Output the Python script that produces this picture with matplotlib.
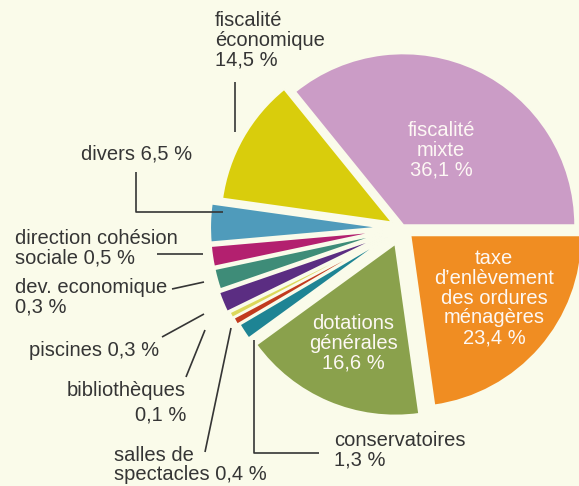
import matplotlib
matplotlib.use("Agg")
import matplotlib.pyplot as plt

# slices, in drawing order (counter-clockwise from 3 o'clock)
names = ["fiscalité\nmixte", "fiscalité\néconomique", "divers",
         "direction cohésion\nsociale", "dev. economique", "piscines",
         "bibliothèques", "salles de\nspectacles", "conservatoires",
         "dotations\ngénérales", "taxe\nd’enlèvement\ndes ordures\nménagères"]
pct = [36.1, 14.5, 6.5, 0.5, 0.3, 0.3, 0.1, 0.4, 1.3, 16.6, 23.4]
# angle each slice takes in the picture (small items are enlarged there)
drawn_deg = [129, 43, 13, 7, 7, 7, 2, 2.5, 5.5, 62, 82]
colors = ["#cb9cc6", "#d9cd0c", "#4f9bbb", "#b3206f", "#3e8c78", "#5b2d82",
          "#dcd85a", "#c23a1e", "#1e8494", "#8aa14c", "#f08d22"]
explode = [3, 11, 20, 20, 20, 22, 20, 19, 17, 17, 11]

BG = "#fafbea"
INK = "#353535"
plt.rcParams["font.family"] = ["Liberation Sans Narrow", "Liberation Sans", "DejaVu Sans"]

fig = plt.figure(figsize=(5.79, 4.86), dpi=100, facecolor=BG)
ax = fig.add_axes([0, 0, 1, 1])
ax.set_facecolor(BG)

# y axis is inverted below, so clockwise in data = counter-clockwise on screen
ax.pie(drawn_deg, colors=colors, explode=explode, center=(402, 228),
       radius=172, startangle=0, counterclock=False, frame=True,
       wedgeprops=dict(edgecolor=BG, linewidth=1.5))
ax.set_xlim(0, 579)
ax.set_ylim(486, 0)   # image-like coords, y down
ax.set_aspect("equal")
ax.axis("off")

fs = 14.5
ls = 1.05
def val(i):
    return f"{pct[i]:.1f} %".replace(".", ",")

# labels inside the big slices
inner = dict(color="#fdf8f4", fontsize=fs, ha="center", va="center", linespacing=ls)
ax.text(441, 150, f"{names[0]}\n{val(0)}", **inner)
ax.text(494, 298, f"{names[10]}\n{val(10)}", **inner)
ax.text(353, 343, f"{names[9]}\n{val(9)}", **inner)

# outside labels with leader lines
def lead(xs, ys):
    ax.plot(xs, ys, color=INK, lw=1.2, solid_capstyle="butt")

outer = dict(color=INK, fontsize=fs, va="center", linespacing=ls)
ax.text(215, 40, f"{names[1]}\n{val(1)}", **outer)
lead([235, 235], [82, 132])

ax.text(81, 154, f"{names[2]} {val(2)}", **outer)
lead([136, 136, 223], [172, 212, 212])

ax.text(15, 248, f"{names[3]} {val(3)}", **outer)
lead([157, 203], [254, 254])

ax.text(15, 297, f"{names[4]}\n{val(4)}", **outer)
lead([172, 204], [289, 282])

ax.text(29, 350, f"{names[5]} {val(5)}", **outer)
lead([162, 204], [337, 314])

ax.text(186, 390, names[6], ha="right", **outer)
ax.text(186, 415, val(6), ha="right", **outer)
lead([186, 205], [377, 330])

ax.text(114, 465, f"{names[7]} {val(7)}", **outer)
lead([205, 231], [452, 328])

ax.text(334, 450, f"{names[8]}\n{val(8)}", **outer)
lead([254, 254, 319], [340, 453, 453])

fig.savefig("out.png", dpi=100, facecolor=BG)
